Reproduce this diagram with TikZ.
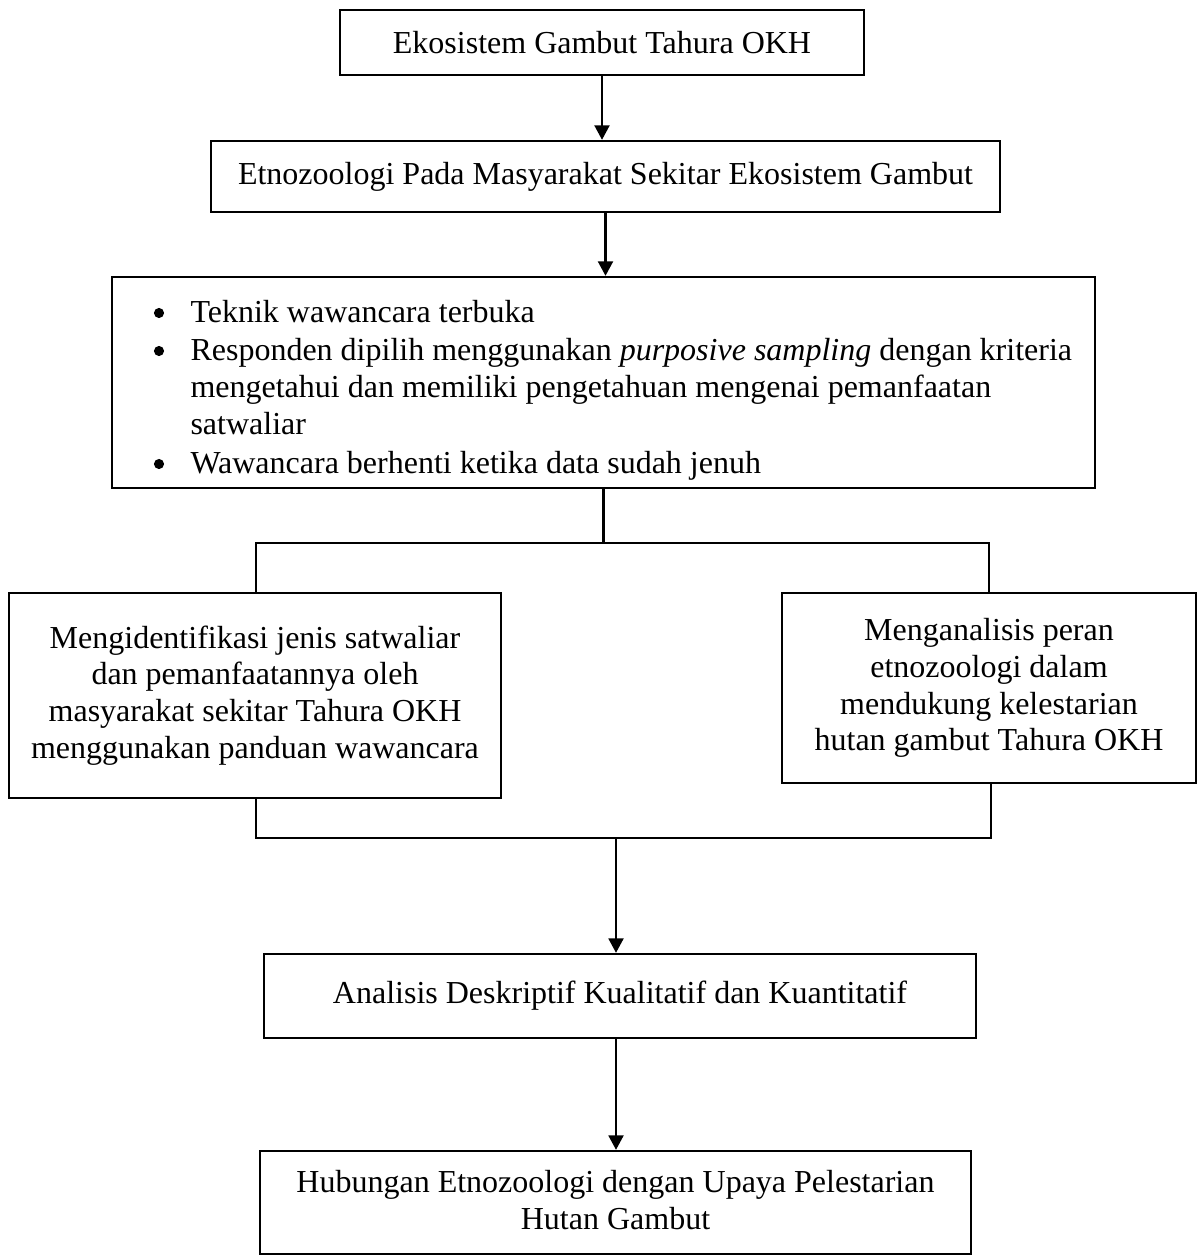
\documentclass[tikz,border=0pt]{standalone}
\usepackage{fontspec}
\setmainfont{Liberation Serif}
\usetikzlibrary{fit,arrows.meta}
\begin{document}
\begin{tikzpicture}[x=0.375pt,y=-0.375pt,
  box/.style={draw, line width=0.9pt, inner sep=0pt},
  txt/.style={inner sep=0pt, align=center, font=\fontsize{12}{13.8}\selectfont},
  dot/.style={circle, fill, inner sep=0pt, minimum size=3.8pt},
  conn/.style={line width=0.8pt},
  arr/.style={line width=0.8pt, -{Triangle[length=5.4pt,width=5.6pt]}}]
\useasboundingbox (0,0) rectangle (1197,1256);
% boxes
\node[box, fit={(340,10) (864,75)}] (b1) {};
\node[box, fit={(211,141) (1000,212)}] (b2) {};
\node[box, fit={(112,277) (1095,488)}] (b3) {};
\node[box, fit={(9,593) (501,798)}] (b4) {};
\node[box, fit={(782,593) (1196,783)}] (b5) {};
\node[box, fit={(264,954) (976,1038)}] (b6) {};
\node[box, fit={(260,1151) (971,1254)}] (b7) {};
% labels
\node[txt] (l1) at (b1.center) {Ekosistem Gambut Tahura OKH};
\node[txt] (l2) at (b2.center) {Etnozoologi Pada Masyarakat Sekitar Ekosistem Gambut};
\node[txt] (l4) at (b4.center) {Mengidentifikasi jenis satwaliar\\dan pemanfaatannya oleh\\masyarakat sekitar Tahura OKH\\menggunakan panduan wawancara};
\node[txt] (l5) at (b5.center) {Menganalisis peran\\etnozoologi dalam\\mendukung kelestarian\\hutan gambut Tahura OKH};
\node[txt] (l6) at (b6.center) {Analisis Deskriptif Kualitatif dan Kuantitatif};
\node[txt] (l7) at ([yshift=0.8pt]b7.center) {Hubungan Etnozoologi dengan Upaya Pelestarian\\Hutan Gambut};
% bullet list inside b3
\node[dot] (p1) at (159,313) {};
\node[txt, anchor=base west] (t1) at (190,322) {Teknik wawancara terbuka};
\node[dot] (p2) at (159,351) {};
\node[txt, anchor=base west] (t2) at (190,360) {Responden dipilih menggunakan \textit{purposive sampling} dengan kriteria};
\node[txt, anchor=base west] (t3) at (190,397) {mengetahui dan memiliki pengetahuan mengenai pemanfaatan};
\node[txt, anchor=base west] (t4) at (190,434) {satwaliar};
\node[dot] (p3) at (159,464) {};
\node[txt, anchor=base west] (t5) at (190,473) {Wawancara berhenti ketika data sudah jenuh};
% junction coordinates
\coordinate (j1) at (603,543);
\coordinate (jl) at (256,543);
\coordinate (jr) at (989,543);
\coordinate (kl) at (256,838);
\coordinate (kr) at (991,838);
\coordinate (km) at (616,838);
% connectors
\draw[arr] (b1.south) -- (b1.south |- b2.north);
\draw[arr] (b2.south) -- (b2.south |- b3.north);
\draw[conn] (b3.south) -- (b3.south |- j1);
\draw[conn] (jl |- b4.north) -- (jl) -- (jr) -- (jr |- b5.north);
\draw[conn] (kl |- b4.south) -- (kl) -- (kr) -- (kr |- b5.south);
\draw[arr] (km) -- (km |- b6.north);
\draw[arr] (km |- b6.south) -- (km |- b7.north);
\end{tikzpicture}
\end{document}
